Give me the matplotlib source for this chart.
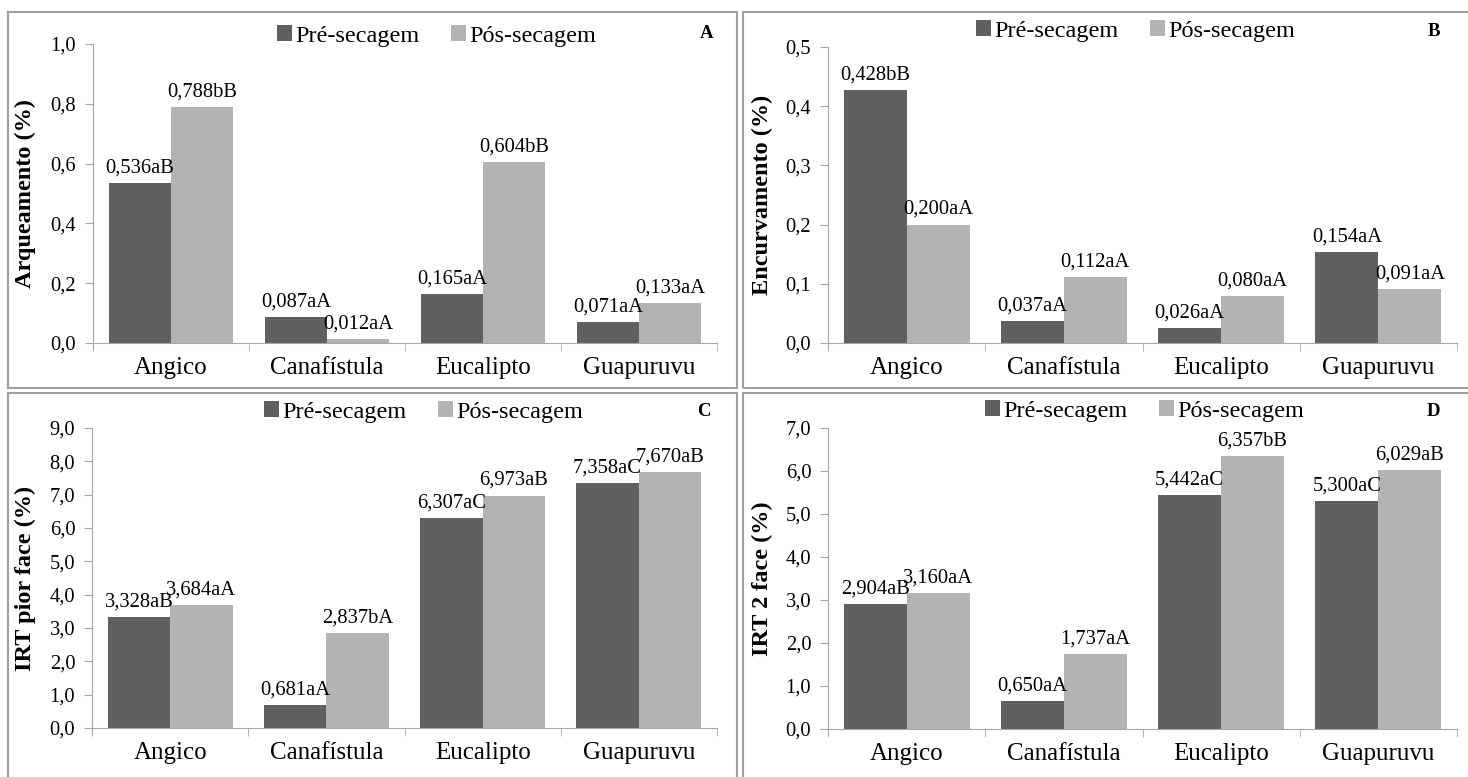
import matplotlib
matplotlib.use("Agg")
import matplotlib.pyplot as plt
from matplotlib.patches import Rectangle
from matplotlib.ticker import FixedLocator, FuncFormatter

# Data
species = ["Angico", "Canafístula", "Eucalipto", "Guapuruvu"]
series_names = ["Pré-secagem", "Pós-secagem"]

arq_pre = [0.536, 0.087, 0.165, 0.071]
arq_pos = [0.788, 0.012, 0.604, 0.133]
arq_pre_lbl = ["0,536aB", "0,087aA", "0,165aA", "0,071aA"]
arq_pos_lbl = ["0,788bB", "0,012aA", "0,604bB", "0,133aA"]

enc_pre = [0.428, 0.037, 0.026, 0.154]
enc_pos = [0.200, 0.112, 0.080, 0.091]
enc_pre_lbl = ["0,428bB", "0,037aA", "0,026aA", "0,154aA"]
enc_pos_lbl = ["0,200aA", "0,112aA", "0,080aA", "0,091aA"]

irtp_pre = [3.328, 0.681, 6.307, 7.358]
irtp_pos = [3.684, 2.837, 6.973, 7.670]
irtp_pre_lbl = ["3,328aB", "0,681aA", "6,307aC", "7,358aC"]
irtp_pos_lbl = ["3,684aA", "2,837bA", "6,973aB", "7,670aB"]

irt2_pre = [2.904, 0.650, 5.442, 5.300]
irt2_pos = [3.160, 1.737, 6.357, 6.029]
irt2_pre_lbl = ["2,904aB", "0,650aA", "5,442aC", "5,300aC"]
irt2_pos_lbl = ["3,160aA", "1,737aA", "6,357bB", "6,029aB"]

W, H = 1468, 777
DARK = "#606060"
LIGHT = "#b3b3b3"
AXC = "#a6a6a6"
plt.rcParams["font.family"] = ["Liberation Serif", "DejaVu Serif"]

fig = plt.figure(figsize=(W / 100, H / 100), dpi=100)


def px_axes(left, right, top, bottom):
    return fig.add_axes([left / W, (H - bottom) / H, (right - left) / W, (bottom - top) / H])


# panel frames
for (x0, y0, x1, y1) in [(8, 12, 737, 388), (743, 12, 1475, 388),
                         (8, 393, 737, 790), (743, 393, 1475, 790)]:
    fig.patches.append(Rectangle((x0 / W, (H - y1) / H), (x1 - x0) / W, (y1 - y0) / H,
                                 transform=fig.transFigure, fill=False,
                                 edgecolor="#a0a0a0", linewidth=1.5))

# (ylabel x, tag x, tag y, legend cx, legend cy) in pixels
panels = [
    (arq_pre, arq_pos, arq_pre_lbl, arq_pos_lbl, 1.0, 0.2, "Arqueamento (%)", "A",
     (93, 717, 44, 343), (25, 707, 33, 437, 36)),
    (enc_pre, enc_pos, enc_pre_lbl, enc_pos_lbl, 0.5, 0.1, "Encurvamento (%)", "B",
     (828, 1457, 47, 343), (762, 1434, 32, 1136, 31)),
    (irtp_pre, irtp_pos, irtp_pre_lbl, irtp_pos_lbl, 9.0, 1.0, "IRT pior face (%)", "C",
     (92, 717, 428, 728), (25, 704, 412, 424, 412)),
    (irt2_pre, irt2_pos, irt2_pre_lbl, irt2_pos_lbl, 7.0, 1.0, "IRT 2 face (%)", "D",
     (828, 1457, 428, 729), (762, 1433, 412, 1145, 411)),
]

x = list(range(len(species)))
bw = 0.4

for pre, pos, pre_lbl, pos_lbl, ymax, step, ylabel, tag, box, pos_txt in panels:
    ax = px_axes(*box)
    b1 = ax.bar([i - bw / 2 for i in x], pre, width=bw, color=DARK, label=series_names[0])
    b2 = ax.bar([i + bw / 2 for i in x], pos, width=bw, color=LIGHT, label=series_names[1])
    for bars, lbls in ((b1, pre_lbl), (b2, pos_lbl)):
        for r, t in zip(bars, lbls):
            ax.annotate(t, (r.get_x() + r.get_width() / 2, r.get_height()),
                        xytext=(0, 4), textcoords="offset points",
                        ha="center", va="bottom", fontsize=14.8)
    ax.set_xlim(-0.5, len(species) - 0.5)
    ax.set_ylim(0, ymax)
    n = int(round(ymax / step))
    ax.set_yticks([i * step for i in range(n + 1)])
    ax.yaxis.set_major_formatter(FuncFormatter(lambda v, p: f"{v:.1f}".replace(".", ",")))
    ax.set_xticks(x)
    ax.set_xticklabels(species, fontsize=18)
    ax.xaxis.set_minor_locator(FixedLocator([i - 0.5 for i in range(len(species) + 1)]))
    ax.tick_params(axis="x", which="major", length=0, pad=10)
    ax.tick_params(axis="x", which="minor", length=6, color=AXC)
    ax.tick_params(axis="y", length=6, color=AXC, labelsize=14.8, pad=6)
    for s in ("top", "right"):
        ax.spines[s].set_visible(False)
    for s in ("left", "bottom"):
        ax.spines[s].set_color(AXC)
    ax.spines["left"].set_bounds(0 - ymax * 0.02, ymax)

    lx, tx, ty, lgx, lgy = pos_txt
    fig.text(lx / W, (H - (box[2] + box[3]) / 2) / H, ylabel, rotation=90,
             ha="center", va="center", fontsize=17.5, fontweight="bold")
    fig.text(tx / W, (H - ty) / H, tag, ha="center", va="center",
             fontsize=13.5, fontweight="bold")
    ax.legend(loc="center", bbox_to_anchor=(lgx / W, (H - lgy) / H),
              bbox_transform=fig.transFigure, ncol=2, frameon=False,
              fontsize=17.5, handlelength=0.6, handleheight=0.6,
              handletextpad=0.15, columnspacing=1.3, borderpad=0, borderaxespad=0)

fig.savefig("out.png", dpi=100)
